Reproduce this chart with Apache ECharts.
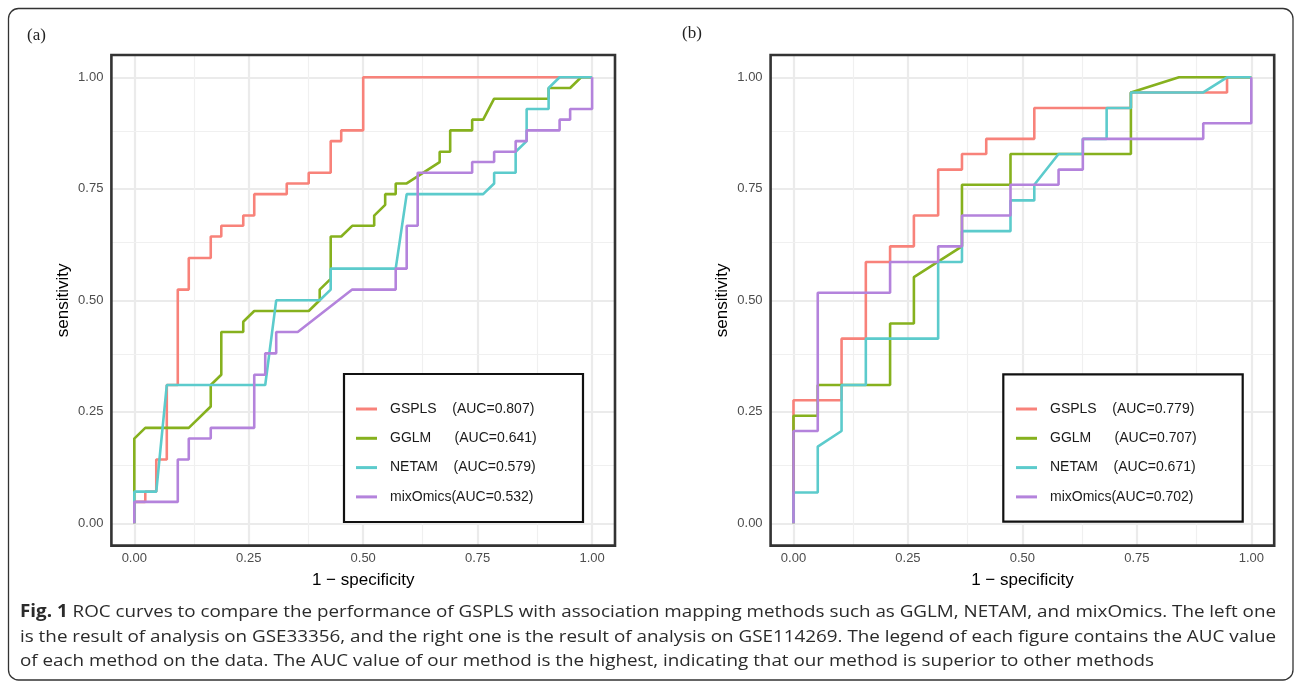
<!DOCTYPE html>
<html>
<head>
<meta charset="utf-8">
<title>ROC curves</title>
<script src="https://cdn.jsdelivr.net/npm/echarts@6/dist/echarts.min.js"></script>
<style>
  html, body { margin: 0; padding: 0; background: #fff; }
  #chart { width: 1295px; height: 687px; }
</style>
</head>
<body>
<div id="chart"></div>
<script>
// tick positions shared by both panels
const majorTicks = [0, 0.25, 0.5, 0.75, 1];
const minorTicks = [0.125, 0.375, 0.625, 0.875];

// (a) GSE33356 — points [1 - specificity, sensitivity]
const gsplsA = [[0,0],[0,0.048],[0.024,0.048],[0.024,0.071],[0.048,0.071],[0.048,0.143],[0.071,0.143],[0.071,0.310],[0.095,0.310],[0.095,0.524],[0.119,0.524],[0.119,0.595],[0.167,0.595],[0.167,0.643],[0.190,0.643],[0.190,0.667],[0.238,0.667],[0.238,0.690],[0.262,0.690],[0.262,0.738],[0.333,0.738],[0.333,0.762],[0.381,0.762],[0.381,0.786],[0.429,0.786],[0.429,0.857],[0.452,0.857],[0.452,0.881],[0.500,0.881],[0.500,1],[1,1]];
const gglmA = [[0,0],[0,0.190],[0.024,0.214],[0.119,0.214],[0.167,0.262],[0.167,0.310],[0.190,0.333],[0.190,0.429],[0.238,0.429],[0.238,0.452],[0.262,0.476],[0.381,0.476],[0.405,0.500],[0.405,0.524],[0.429,0.548],[0.429,0.643],[0.452,0.643],[0.476,0.667],[0.524,0.667],[0.524,0.690],[0.548,0.714],[0.548,0.738],[0.571,0.738],[0.571,0.762],[0.595,0.762],[0.667,0.810],[0.667,0.833],[0.690,0.833],[0.690,0.881],[0.738,0.881],[0.738,0.905],[0.762,0.905],[0.786,0.952],[0.905,0.952],[0.905,0.976],[0.952,0.976],[0.976,1],[1,1]];
const netamA = [[0,0],[0,0.071],[0.048,0.071],[0.071,0.310],[0.286,0.310],[0.310,0.500],[0.405,0.500],[0.429,0.524],[0.429,0.571],[0.571,0.571],[0.595,0.738],[0.762,0.738],[0.786,0.762],[0.786,0.786],[0.833,0.786],[0.833,0.833],[0.857,0.857],[0.857,0.929],[0.905,0.929],[0.905,0.976],[0.929,1],[1,1]];
const mixOmicsA = [[0,0],[0,0.048],[0.095,0.048],[0.095,0.143],[0.119,0.143],[0.119,0.190],[0.167,0.190],[0.167,0.214],[0.262,0.214],[0.262,0.333],[0.286,0.333],[0.286,0.381],[0.310,0.381],[0.310,0.429],[0.357,0.429],[0.476,0.524],[0.571,0.524],[0.571,0.571],[0.595,0.571],[0.595,0.667],[0.619,0.667],[0.619,0.786],[0.738,0.786],[0.738,0.810],[0.786,0.810],[0.786,0.833],[0.833,0.833],[0.833,0.857],[0.857,0.857],[0.857,0.881],[0.929,0.881],[0.929,0.905],[0.952,0.905],[0.952,0.929],[1,0.929],[1,1]];

// (b) GSE114269
const gsplsB = [[0,0],[0,0.276],[0.105,0.276],[0.105,0.414],[0.158,0.414],[0.158,0.586],[0.211,0.586],[0.211,0.621],[0.263,0.621],[0.263,0.690],[0.316,0.690],[0.316,0.793],[0.368,0.793],[0.368,0.828],[0.421,0.828],[0.421,0.862],[0.526,0.862],[0.526,0.931],[0.737,0.931],[0.737,0.966],[0.947,0.966],[0.947,1],[1,1]];
const gglmB = [[0,0],[0,0.241],[0.053,0.241],[0.053,0.310],[0.211,0.310],[0.211,0.448],[0.263,0.448],[0.263,0.552],[0.368,0.621],[0.368,0.759],[0.474,0.759],[0.474,0.828],[0.737,0.828],[0.737,0.966],[0.842,1],[1,1]];
const netamB = [[0,0],[0,0.069],[0.053,0.069],[0.053,0.172],[0.105,0.207],[0.105,0.310],[0.158,0.310],[0.158,0.414],[0.316,0.414],[0.316,0.586],[0.368,0.586],[0.368,0.655],[0.474,0.655],[0.474,0.724],[0.526,0.724],[0.526,0.759],[0.579,0.828],[0.632,0.828],[0.632,0.862],[0.684,0.862],[0.684,0.931],[0.737,0.931],[0.737,0.966],[0.895,0.966],[0.947,1],[1,1]];
const mixOmicsB = [[0,0],[0,0.207],[0.053,0.207],[0.053,0.517],[0.211,0.517],[0.211,0.586],[0.316,0.586],[0.316,0.621],[0.368,0.621],[0.368,0.690],[0.474,0.690],[0.474,0.759],[0.579,0.759],[0.579,0.793],[0.632,0.793],[0.632,0.862],[0.895,0.862],[0.895,0.897],[1,0.897],[1,1]];

// legend labels (the spaces line the brackets up, as in the original)
const namesA = ["GSPLS    (AUC=0.807)", "GGLM      (AUC=0.641)", "NETAM    (AUC=0.579)", "mixOmics(AUC=0.532)"];
const namesB = ["GSPLS    (AUC=0.779)", "GGLM      (AUC=0.707)", "NETAM    (AUC=0.671)", "mixOmics(AUC=0.702)"];
const colors = ["#f8827a", "#86b11e", "#5ccbcc", "#b483dc"];

const captionLines = [
  "ROC curves to compare the performance of GSPLS with association mapping methods such as GGLM, NETAM, and mixOmics. The left one",
  "is the result of analysis on GSE33356, and the right one is the result of analysis on GSE114269. The legend of each figure contains the AUC value",
  "of each method on the data. The AUC value of our method is the highest, indicating that our method is superior to other methods"
];

// panel boxes in pixels
const panels = [
  { left: 111.4, top: 55, width: 503.6, height: 490.6 },
  { left: 770.6, top: 55, width: 503.6, height: 490.6 }
];
const legendBoxes = [
  { x: 344, y: 374, width: 239, height: 148 },
  { x: 1003.3, y: 374.3, width: 239.4, height: 147.4 }
];

const sans = "Liberation Sans";

function xAxisFor(i) {
  return {
    gridIndex: i, type: "value", min: -0.05, max: 1.05,
    name: "1 \u2212 specificity", nameLocation: "middle", nameGap: 26,
    nameTextStyle: { fontSize: 17, fontFamily: sans, color: "#000" },
    axisLine: { show: false },
    splitLine: { show: false },
    axisTick: { show: true, customValues: majorTicks, length: 4, lineStyle: { color: "#333", width: 2 } },
    axisLabel: { customValues: majorTicks, margin: 6, fontSize: 13, fontFamily: sans, color: "#4d4d4d",
      formatter: function (v) { return v.toFixed(2); } }
  };
}

function yAxisFor(i) {
  return {
    gridIndex: i, type: "value", min: -0.05, max: 1.05,
    name: "sensitivity", nameLocation: "middle", nameGap: 40,
    nameTextStyle: { fontSize: 17, fontFamily: sans, color: "#000" },
    axisLine: { show: false },
    splitLine: { show: false },
    axisTick: { show: true, customValues: majorTicks, length: 4, lineStyle: { color: "#333", width: 2 } },
    axisLabel: { customValues: majorTicks, margin: 8, fontSize: 13, fontFamily: sans, color: "#4d4d4d",
      formatter: function (v) { return v.toFixed(2); } }
  };
}

// ggplot-style grid lines, drawn as markLines on an empty series (kept under the curves)
function gridLines(i) {
  let data = [];
  majorTicks.forEach(function (v) {
    data.push({ xAxis: v, lineStyle: { color: "#ebebeb", width: 2.2, type: "solid" } });
    data.push({ yAxis: v, lineStyle: { color: "#ebebeb", width: 2.2, type: "solid" } });
  });
  minorTicks.forEach(function (v) {
    data.push({ xAxis: v, lineStyle: { color: "#f0f0f0", width: 1.2, type: "solid" } });
    data.push({ yAxis: v, lineStyle: { color: "#f0f0f0", width: 1.2, type: "solid" } });
  });
  return {
    type: "line", xAxisIndex: i, yAxisIndex: i, data: [], z: 1,
    markLine: { z: 1, silent: true, symbol: ["none", "none"], label: { show: false }, animation: false, data: data }
  };
}

function curve(i, name, data, color) {
  return {
    type: "line", name: name, xAxisIndex: i, yAxisIndex: i, data: data,
    showSymbol: false, z: 3,
    lineStyle: { width: 2.6, color: color },
    itemStyle: { color: color }
  };
}

function legendFor(names, left) {
  return {
    data: names, orient: "vertical", left: left, top: 402, z: 70,
    icon: "rect", itemWidth: 21, itemHeight: 3, itemGap: 15.3, padding: 0,
    selectedMode: false,
    textStyle: { fontSize: 14, fontFamily: sans, color: "#1a1a1a", padding: [0, 0, 0, 8] }
  };
}

// caption: stretch the text to the width of the justified lines
let measureCtx = document.createElement("canvas").getContext("2d");
function textWidth(str, font) {
  measureCtx.font = font;
  return measureCtx.measureText(str).width;
}
const capFont = '17px "Open Sans"';
const capBold = 'bold 17px "Open Sans"';
let w1 = textWidth("Fig. 1", capBold) + textWidth(" " + captionLines[0], capFont);
let w2 = textWidth(captionLines[1], capFont);
let s1 = 1256 / w1;
let s2 = 1256 / w2;
let s3 = (s1 + s2) / 2;

let graphics = [
  { type: "rect", shape: { x: 8.5, y: 8.5, width: 1284.5, height: 671.5, r: 10 },
    style: { fill: null, stroke: "#333", lineWidth: 1.3 }, z: 0 },
  { type: "text", left: 27, top: 27, style: { text: "(a)", font: '17px "Liberation Serif"', fill: "#222" } },
  { type: "text", left: 682, top: 25, style: { text: "(b)", font: '17px "Liberation Serif"', fill: "#222" } },
  { type: "text", x: 20, y: 612, scaleX: s1, originX: 0,
    style: { text: "{b|Fig. 1} " + captionLines[0], font: capFont, fill: "#2b2b2b", verticalAlign: "middle",
      rich: { b: { font: capBold, fill: "#2b2b2b" } } } },
  { type: "text", x: 20, y: 637, scaleX: s2, originX: 0,
    style: { text: captionLines[1], font: capFont, fill: "#2b2b2b", verticalAlign: "middle" } },
  { type: "text", x: 20, y: 661, scaleX: s3, originX: 0,
    style: { text: captionLines[2], font: capFont, fill: "#2b2b2b", verticalAlign: "middle" } }
];
panels.forEach(function (p) {
  graphics.push({ type: "rect", shape: { x: p.left, y: p.top, width: p.width, height: p.height },
    style: { fill: null, stroke: "#333", lineWidth: 2.6 }, z: 50 });
});
legendBoxes.forEach(function (b) {
  graphics.push({ type: "rect", shape: b, style: { fill: "#fff", stroke: "#111", lineWidth: 2.2 }, z: 60 });
});

let series = [gridLines(0), gridLines(1)];
[gsplsA, gglmA, netamA, mixOmicsA].forEach(function (d, k) { series.push(curve(0, namesA[k], d, colors[k])); });
[gsplsB, gglmB, netamB, mixOmicsB].forEach(function (d, k) { series.push(curve(1, namesB[k], d, colors[k])); });

let option = {
  animation: false,
  backgroundColor: "#fff",
  grid: panels.map(function (p) { return Object.assign({ containLabel: false }, p); }),
  xAxis: [xAxisFor(0), xAxisFor(1)],
  yAxis: [yAxisFor(0), yAxisFor(1)],
  legend: [legendFor(namesA, 356), legendFor(namesB, 1016)],
  graphic: graphics,
  series: series
};

let myChart = echarts.init(document.getElementById("chart"));
myChart.setOption(option);
</script>
</body>
</html>
